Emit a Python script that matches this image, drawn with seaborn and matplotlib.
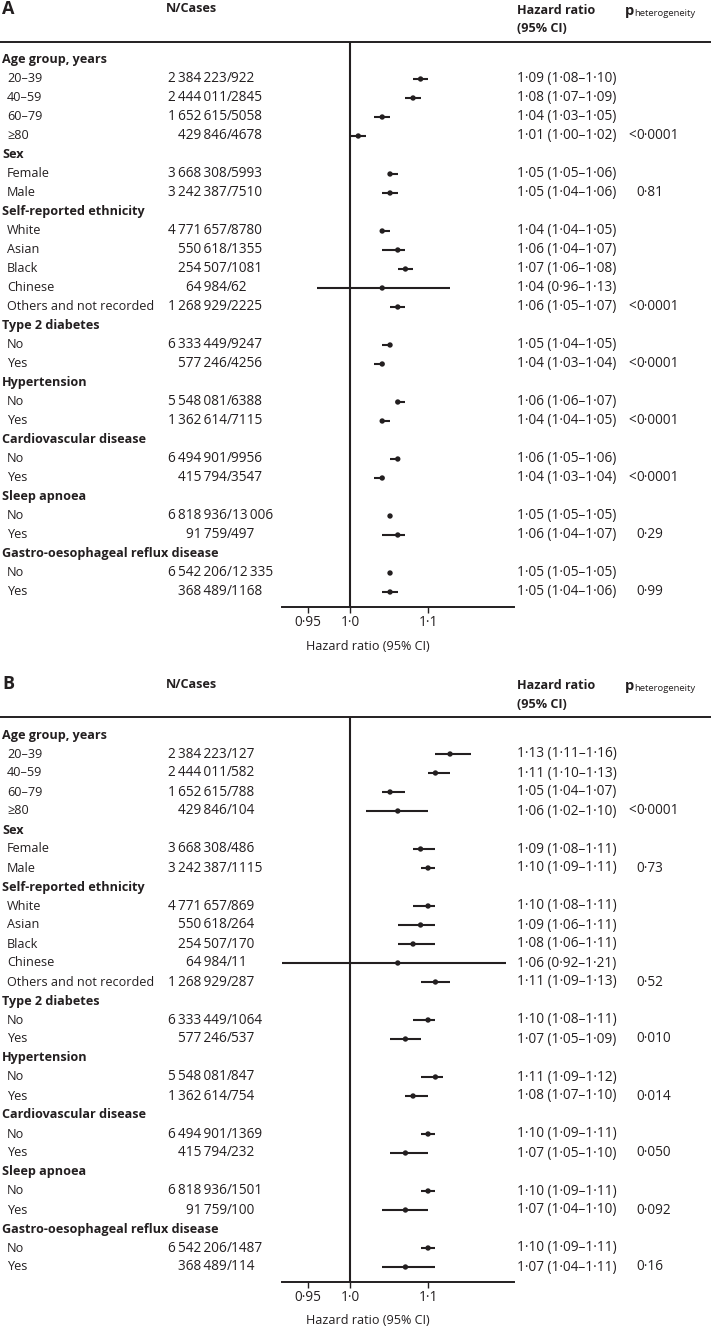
import numpy as np
import pandas as pd
import matplotlib
matplotlib.use("Agg")
import matplotlib.pyplot as plt
import seaborn as sns
from matplotlib.transforms import blended_transform_factory
from matplotlib.lines import Line2D
from matplotlib.ticker import NullLocator

# ---------------- data ----------------
groups = ["Age group, years", "Sex", "Self-reported ethnicity", "Type 2 diabetes",
          "Hypertension", "Cardiovascular disease", "Sleep apnoea",
          "Gastro-oesophageal reflux disease"]
subgroups = [["20–39", "40–59", "60–79", "≥80"],
             ["Female", "Male"],
             ["White", "Asian", "Black", "Chinese", "Others and not recorded"],
             ["No", "Yes"], ["No", "Yes"], ["No", "Yes"], ["No", "Yes"], ["No", "Yes"]]
n_total = [2384223, 2444011, 1652615, 429846, 3668308, 3242387, 4771657, 550618,
           254507, 64984, 1268929, 6333449, 577246, 5548081, 1362614, 6494901,
           415794, 6818936, 91759, 6542206, 368489]

cases_a = [922, 2845, 5058, 4678, 5993, 7510, 8780, 1355, 1081, 62, 2225, 9247, 4256,
           6388, 7115, 9956, 3547, 13006, 497, 12335, 1168]
hr_a = [1.09, 1.08, 1.04, 1.01, 1.05, 1.05, 1.04, 1.06, 1.07, 1.04, 1.06, 1.05, 1.04,
        1.06, 1.04, 1.06, 1.04, 1.05, 1.06, 1.05, 1.05]
lo_a = [1.08, 1.07, 1.03, 1.00, 1.05, 1.04, 1.04, 1.04, 1.06, 0.96, 1.05, 1.04, 1.03,
        1.06, 1.04, 1.05, 1.03, 1.05, 1.04, 1.05, 1.04]
hi_a = [1.10, 1.09, 1.05, 1.02, 1.06, 1.06, 1.05, 1.07, 1.08, 1.13, 1.07, 1.05, 1.04,
        1.07, 1.05, 1.06, 1.04, 1.05, 1.07, 1.05, 1.06]
p_a = ["<0·0001", "0·81", "<0·0001", "<0·0001", "<0·0001", "<0·0001", "0·29", "0·99"]

cases_b = [127, 582, 788, 104, 486, 1115, 869, 264, 170, 11, 287, 1064, 537, 847, 754,
           1369, 232, 1501, 100, 1487, 114]
hr_b = [1.13, 1.11, 1.05, 1.06, 1.09, 1.10, 1.10, 1.09, 1.08, 1.06, 1.11, 1.10, 1.07,
        1.11, 1.08, 1.10, 1.07, 1.10, 1.07, 1.10, 1.07]
lo_b = [1.11, 1.10, 1.04, 1.02, 1.08, 1.09, 1.08, 1.06, 1.06, 0.92, 1.09, 1.08, 1.05,
        1.09, 1.07, 1.09, 1.05, 1.09, 1.04, 1.09, 1.04]
hi_b = [1.16, 1.13, 1.07, 1.10, 1.11, 1.11, 1.11, 1.11, 1.11, 1.21, 1.13, 1.11, 1.09,
        1.12, 1.10, 1.11, 1.10, 1.11, 1.10, 1.11, 1.11]
p_b = ["<0·0001", "0·73", "0·52", "0·010", "0·014", "0·050", "0·092", "0·16"]

x_ticks = [0.95, 1.0, 1.1]
x_tick_labels = ["0·95", "1·0", "1·1"]
panel_letters = ["A", "B"]

# ---------------- style ----------------
sns.set_theme(style="white")
FONT = ["Open Sans", "DejaVu Sans"]
plt.rcParams["font.family"] = FONT
INK = "#231f20"
FS = 9.1      # labels
FSN = 9.8     # numeric columns

W, H = 711, 1326
fig = plt.figure(figsize=(W / 100, H / 100), dpi=100)


def fx(px):
    return px / W


def fy(py):
    return 1 - py / H


def fmt_int(v):
    if v >= 10000:
        return f"{v:,}".replace(",", "\u2009")
    return str(v)


def fmt_num(v):
    return f"{v:.2f}".replace(".", "·")


def draw_panel(o, letter, cases, hr, lo, hi, pvals):
    ax = fig.add_axes([fx(282), fy(607 + o), fx(514) - fx(282), (607 - 42) / H])
    rows = []
    idx = 0
    k = 0
    header_rows = []
    for g, subs in enumerate(subgroups):
        header_rows.append((idx, groups[g]))
        idx += 1
        for j, s in enumerate(subs):
            rows.append(dict(row=idx, label=s, n=n_total[k], cases=cases[k],
                             hr=hr[k], lo=lo[k], hi=hi[k],
                             p=pvals[g] if j == len(subs) - 1 else ""))
            idx += 1
            k += 1
    df = pd.DataFrame(rows)

    ax.hlines(df["row"], df["lo"], df["hi"], color=INK, lw=1.5, zorder=2)
    sns.scatterplot(data=df, x="hr", y="row", ax=ax, color=INK, s=15,
                    edgecolor="none", zorder=3, legend=False)
    ax.axvline(1.0, color=INK, lw=1.5, zorder=1)
    ax.set_xscale("log")
    ax.set_xlim(0.92, 1.222)
    ax.set_ylim((607 - 60) / 19, (42 - 60) / 19)
    ax.set_xticks(x_ticks)
    ax.set_xticklabels(x_tick_labels)
    ax.xaxis.set_minor_locator(NullLocator())
    ax.set_yticks([])
    ax.set_xlabel("")
    ax.set_ylabel("")
    ax.tick_params(axis="x", direction="out", length=4, width=1.0, pad=2,
                   labelsize=FSN, colors=INK, bottom=True)
    for side in ["top", "right", "left"]:
        ax.spines[side].set_visible(False)
    ax.spines["bottom"].set_color(INK)
    ax.spines["bottom"].set_linewidth(1.4)
    ax.patch.set_alpha(0)

    tr = blended_transform_factory(fig.transFigure, ax.transData)
    for r, g in header_rows:
        ax.text(fx(2), r, g, transform=tr, ha="left", va="center", fontsize=FS,
                fontweight="bold", color=INK, clip_on=False)
    for _, rr in df.iterrows():
        y = rr["row"]
        ax.text(fx(7), y, rr["label"], transform=tr, ha="left", va="center",
                fontsize=FS, color=INK)
        ax.text(fx(227), y, fmt_int(rr["n"]), transform=tr, ha="right",
                va="center", fontsize=FSN, color=INK)
        ax.text(fx(227), y, "/" + fmt_int(rr["cases"]), transform=tr, ha="left",
                va="center", fontsize=FSN, color=INK)
        txt = f"{fmt_num(rr['hr'])} ({fmt_num(rr['lo'])}–{fmt_num(rr['hi'])})"
        ax.text(fx(517), y, txt, transform=tr, ha="left", va="center",
                fontsize=FSN, color=INK)
        p = rr["p"]
        if p:
            if p.startswith("<"):
                ax.text(fx(636), y, "<", transform=tr, ha="right", va="center",
                        fontsize=FSN, color=INK)
                p = p[1:]
            ax.text(fx(636), y, p, transform=tr, ha="left", va="center",
                    fontsize=FSN, color=INK)

    # header
    fig.text(fx(2), fy(9 + o), letter, ha="left", va="center", fontsize=13,
             fontweight="bold", color=INK)
    fig.text(fx(166), fy(9 + o), "N/Cases", ha="left", va="center", fontsize=FS,
             fontweight="bold", color=INK)
    fig.text(fx(517), fy(10 + o), "Hazard ratio", ha="left", va="center",
             fontsize=FS, fontweight="bold", color=INK)
    fig.text(fx(517), fy(29 + o), "(95% CI)", ha="left", va="center",
             fontsize=FS, fontweight="bold", color=INK)
    fig.text(fx(625), fy(11 + o), "p", ha="left", va="center", fontsize=10.5,
             fontweight="bold", color=INK)
    fig.text(fx(634), fy(13 + o), "heterogeneity", ha="left", va="center",
             fontsize=6.8, color=INK)
    fig.add_artist(Line2D([0, 1], [fy(42 + o)] * 2, transform=fig.transFigure,
                          color=INK, lw=1.4))
    fig.text(fx(368), fy(646 + o), "Hazard ratio (95% CI)", ha="center",
             va="center", fontsize=FS, color=INK)


draw_panel(0, panel_letters[0], cases_a, hr_a, lo_a, hi_a, p_a)
draw_panel(675, panel_letters[1], cases_b, hr_b, lo_b, hi_b, p_b)

fig.savefig("out.png", dpi=100, facecolor="white")
